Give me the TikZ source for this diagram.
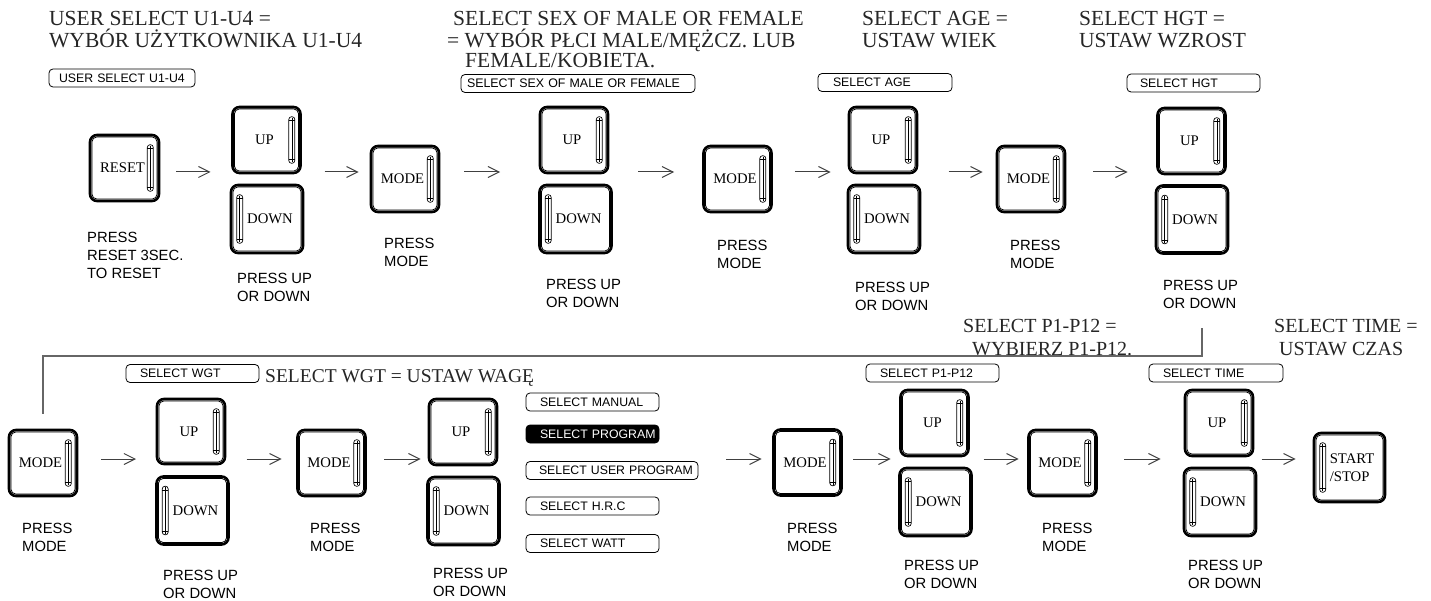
\documentclass[tikz,border=0pt]{standalone}
\usepackage{fontspec}
\setmainfont{Liberation Serif}
\setsansfont{Liberation Sans}
\usetikzlibrary{arrows.meta,fit}

\newcommand\btninner[1]{\draw[line width=0.8pt, rounded corners=5pt] ([shift={(3.2,3.2)}]#1.north west) rectangle ([shift={(-3.2,-3.2)}]#1.south east);}
\newcommand\gripR[1]{%
  \draw[line width=0.7pt, rounded corners=2.8pt] ([shift={(-13,11)}]#1.north east) rectangle ([shift={(-7,-11)}]#1.south east);
  \draw[line width=0.5pt] ([shift={(-10,12)}]#1.north east) -- ([shift={(-10,-12)}]#1.south east);
  \draw[line width=0.5pt] ([shift={(-13,15)}]#1.north east) -- ++(6,0) ([shift={(-13,-15)}]#1.south east) -- ++(6,0);}
\newcommand\gripL[1]{%
  \draw[line width=0.7pt, rounded corners=2.8pt] ([shift={(7,11)}]#1.north west) rectangle ([shift={(13,-11)}]#1.south west);
  \draw[line width=0.5pt] ([shift={(10,12)}]#1.north west) -- ([shift={(10,-12)}]#1.south west);
  \draw[line width=0.5pt] ([shift={(7,15)}]#1.north west) -- ++(6,0) ([shift={(7,-15)}]#1.south west) -- ++(6,0);}
\newcommand\bx[2]{\hspace*{#1}\mbox{#2}}

\tikzset{
  btn/.style={draw=black, line width=2.6pt, rounded corners=7pt, inner sep=0pt, align=left,
    font=\rmfamily\fontsize{14.7}{18}\selectfont},
  upb/.style={btn, minimum width=68pt, minimum height=66pt},
  dnb/.style={btn, minimum width=72pt, minimum height=68pt},
  modeb/.style={btn, minimum width=68pt, minimum height=66pt},
  arr/.style={draw=black!75, line width=1pt, -{Straight Barb[length=11pt,width=11pt]}},
  conn/.style={draw=black!60, line width=1.3pt},
  sbox/.style={draw=black, line width=0.8pt, rounded corners=4pt, minimum height=18pt, inner sep=0pt,
    align=left, font=\sffamily\fontsize{12.3}{13}\selectfont},
  lbl/.style={anchor=north west, inner sep=0pt, align=left, font=\sffamily\fontsize{14.8}{18}\selectfont},
  head/.style={anchor=north west, inner sep=0pt, align=left, text=black!85,
    font=\rmfamily\fontsize{21.5}{22.5}\selectfont},
  headb/.style={head, font=\rmfamily\fontsize{20}{23}\selectfont},
}

\begin{document}
\begin{tikzpicture}[x=1pt,y=-1pt]
\useasboundingbox (0,0) rectangle (1431,601);
\fill[white] (0,0) rectangle (1431,601);

% headings
\node[head] (h1) at (49,10.8) {USER SELECT U1-U4 =\\WYBÓR UŻYTKOWNIKA U1-U4};
\node[head] (h2) at (447,10.8) {\hspace*{6pt}SELECT SEX OF MALE OR FEMALE\\= WYBÓR PŁCI MALE/MĘŻCZ. LUB\\[-2.5pt]\hspace*{18pt}FEMALE/KOBIETA.};
\node[head] (h3) at (862,10.8) {SELECT AGE =\\USTAW WIEK};
\node[head] (h4) at (1079,10.8) {SELECT HGT =\\USTAW WZROST};
\node[head, font=\rmfamily\fontsize{19.5}{22}\selectfont] (h5) at (265,369) {SELECT WGT = USTAW WAGĘ};
\node[headb] (h6) at (963,318.8) {SELECT P1-P12 =\\\hspace*{9pt}WYBIERZ P1-P12.};
\node[headb] (h7) at (1274,318.8) {SELECT TIME =\\\hspace*{5pt}USTAW CZAS};

% selection boxes
\node[sbox, text width=146pt] (bu) at (122,78) {\bx{10pt}{USER SELECT U1-U4}};
\node[sbox, text width=234pt, font=\sffamily\fontsize{12.4}{13}\selectfont] (bs) at (578,83.5) {\bx{6pt}{SELECT SEX OF MALE OR FEMALE}};
\node[sbox, text width=134pt] (ba) at (885,82.5) {\bx{15pt}{SELECT AGE}};
\node[sbox, text width=133pt] (bh) at (1193.5,83) {\bx{13pt}{SELECT HGT}};
\node[sbox, text width=133pt] (bw) at (192.5,373.5) {\bx{14pt}{SELECT WGT}};
\node[sbox, text width=133pt] (o1) at (592.5,402) {\bx{14pt}{SELECT MANUAL}};
\node[sbox, text width=133pt, fill=black, text=white] (o2) at (592.5,434) {\bx{14pt}{SELECT PROGRAM}};
\node[sbox, text width=172pt] (o3) at (612,470.5) {\bx{13pt}{SELECT USER PROGRAM}};
\node[sbox, text width=133pt] (o4) at (592.5,506) {\bx{14pt}{SELECT H.R.C}};
\node[sbox, text width=133pt] (o5) at (592.5,543.5) {\bx{14pt}{SELECT WATT}};
\node[sbox, text width=133pt] (bp) at (932.5,373) {\bx{14pt}{SELECT P1-P12}};
\node[sbox, text width=134pt] (bt) at (1216,373) {\bx{14pt}{SELECT TIME}};

% buttons row 1
\node[btn, minimum width=69pt, minimum height=66pt] (reset) at (124.5,168) {\kern-4pt RESET};
\node[upb] (up1) at (266.5,140) {\kern-4pt UP};
\node[dnb] (dn1) at (267,219) {\kern6pt DOWN};
\node[modeb] (mode1) at (405,179) {\kern-5pt MODE};
\node[upb] (up2) at (574,140) {\kern-4pt UP};
\node[dnb] (dn2) at (575.5,219) {\kern6pt DOWN};
\node[modeb] (mode2) at (737.5,179) {\kern-5pt MODE};
\node[upb] (up3) at (883,140) {\kern-4pt UP};
\node[dnb] (dn3) at (884,219) {\kern6pt DOWN};
\node[modeb] (mode3) at (1031,179) {\kern-5pt MODE};
\node[upb] (up4) at (1191.5,141) {\kern-4pt UP};
\node[dnb] (dn4) at (1192,219.5) {\kern6pt DOWN};
% buttons row 2
\node[modeb] (mode4) at (43,463) {\kern-5pt MODE};
\node[upb, minimum height=65pt] (up5) at (191,431.5) {\kern-4pt UP};
\node[dnb] (dn5) at (192.5,510.5) {\kern6pt DOWN};
\node[modeb] (mode5) at (331.5,463) {\kern-5pt MODE};
\node[upb] (up6) at (463,432) {\kern-4pt UP};
\node[dnb] (dn6) at (463.5,511) {\kern6pt DOWN};
\node[modeb] (mode6) at (807.5,462.5) {\kern-5pt MODE};
\node[upb] (up7) at (934.5,423) {\kern-4pt UP};
\node[dnb] (dn7) at (935.5,502) {\kern6pt DOWN};
\node[modeb] (mode7) at (1062.5,463) {\kern-5pt MODE};
\node[upb] (up8) at (1219,423) {\kern-4pt UP};
\node[dnb] (dn8) at (1220,502) {\kern6pt DOWN};
\node[btn, minimum width=71pt, minimum height=69pt] (start) at (1349.5,467.5) {\hspace*{5pt}START\\\hspace*{5pt}/STOP};

\foreach \n in {reset,up1,mode1,up2,mode2,up3,mode3,up4,mode4,up5,mode5,up6,mode6,up7,mode7,up8}{\btninner{\n}\gripR{\n}}
\foreach \n in {dn1,dn2,dn3,dn4,dn5,dn6,dn7,dn8,start}{\btninner{\n}\gripL{\n}}

% groups
\node[fit=(up1)(dn1), inner sep=0pt] (ud1) {};
\node[fit=(up2)(dn2), inner sep=0pt] (ud2) {};
\node[fit=(up3)(dn3), inner sep=0pt] (ud3) {};
\node[fit=(up4)(dn4), inner sep=0pt] (ud4) {};
\node[fit=(up5)(dn5), inner sep=0pt] (ud5) {};
\node[fit=(up6)(dn6), inner sep=0pt] (ud6) {};
\node[fit=(up7)(dn7), inner sep=0pt] (ud7) {};
\node[fit=(up8)(dn8), inner sep=0pt] (ud8) {};

% labels
\node[lbl] (l0) at (87,232) {PRESS\\RESET 3SEC.\\TO RESET};
\node[lbl] (l1) at (237,273) {PRESS UP\\OR DOWN};
\node[lbl] (l2) at (384,238) {PRESS\\MODE};
\node[lbl] (l3) at (546,279) {PRESS UP\\OR DOWN};
\node[lbl] (l4) at (717,240) {PRESS\\MODE};
\node[lbl] (l5) at (855,282) {PRESS UP\\OR DOWN};
\node[lbl] (l6) at (1010,240) {PRESS\\MODE};
\node[lbl] (l7) at (1163,280) {PRESS UP\\OR DOWN};
\node[lbl] (l8) at (22,523) {PRESS\\MODE};
\node[lbl] (l9) at (163,570) {PRESS UP\\OR DOWN};
\node[lbl] (l10) at (310,523) {PRESS\\MODE};
\node[lbl] (l11) at (433,568) {PRESS UP\\OR DOWN};
\node[lbl] (l12) at (787,523) {PRESS\\MODE};
\node[lbl] (l13) at (904,560) {PRESS UP\\OR DOWN};
\node[lbl] (l14) at (1042,523) {PRESS\\MODE};
\node[lbl] (l15) at (1188,560) {PRESS UP\\OR DOWN};

% arrows
\coordinate (r1) at (0,172);
\coordinate (r2) at (0,459);
\draw[arr, shorten <=16pt, shorten >=19pt] (reset.east |- r1) -- (ud1.west |- r1);
\draw[arr, shorten <=20pt, shorten >=11pt] (ud1.east |- r1) -- (mode1.west |- r1);
\draw[arr, shorten <=24pt, shorten >=38pt] (mode1.east |- r1) -- (ud2.west |- r1);
\draw[arr, shorten <=25pt, shorten >=28pt] (ud2.east |- r1) -- (mode2.west |- r1);
\draw[arr, shorten <=22pt, shorten >=16pt] (mode2.east |- r1) -- (ud3.west |- r1);
\draw[arr, shorten <=27pt, shorten >=13pt] (ud3.east |- r1) -- (mode3.west |- r1);
\draw[arr, shorten <=27pt, shorten >=27pt] (mode3.east |- r1) -- (ud4.west |- r1);
\draw[arr, shorten <=23pt, shorten >=19pt] (mode4.east |- r2) -- (ud5.west |- r2);
\draw[arr, shorten <=16.5pt, shorten >=14.5pt] (ud5.east |- r2) -- (mode5.west |- r2);
\draw[arr, shorten <=17.5pt, shorten >=5.5pt] (mode5.east |- r2) -- (ud6.west |- r2);
\draw[arr, shorten <=28pt, shorten >=10.5pt] (o3.east |- r2) -- (mode6.west |- r2);
\draw[arr, shorten <=10.5pt, shorten >=7.5pt] (mode6.east |- r2) -- (ud7.west |- r2);
\draw[arr, shorten <=10.5pt, shorten >=8.5pt] (ud7.east |- r2) -- (mode7.west |- r2);
\draw[arr, shorten <=26.5pt, shorten >=22pt] (mode7.east |- r2) -- (ud8.west |- r2);
\draw[arr, shorten <=4pt, shorten >=17pt] (ud8.east |- r2) -- (start.west |- r2);

% return connector
\coordinate (c0) at (1202,328);
\coordinate (cbar) at (0,356);
\draw[conn] (c0) -- (c0 |- cbar) -| ([yshift=15pt]mode4.north);
\end{tikzpicture}
\end{document}
